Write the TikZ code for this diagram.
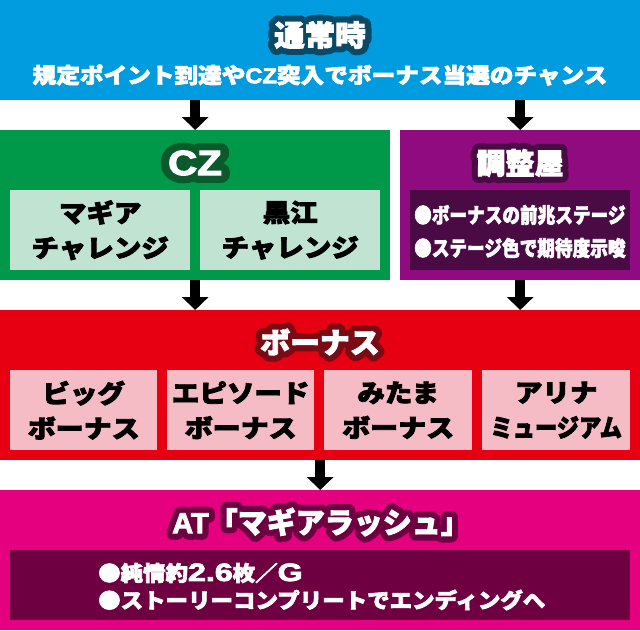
\documentclass[tikz,border=0pt]{standalone}
\usepackage{fontspec}
\newfontfamily\jp{Noto Sans CJK JP}[BoldFeatures={FakeBold=3}]
\newfontfamily\jpo{Noto Sans CJK JP}[BoldFeatures={FakeBold=45}]
\newfontfamily\lat{Liberation Sans}[BoldFeatures={FakeBold=3}]
\newfontfamily\lato{Liberation Sans}[BoldFeatures={FakeBold=45}]
\usetikzlibrary{arrows.meta}
\newcommand\rj{\special{pdf:code 1 j 1 J}}
\newcommand\bignum[1]{{\lat\bfseries\fontsize{25}{27}\selectfont\scalebox{1.2}[1]{#1}}}
\definecolor{cblue}{HTML}{009CDF}
\definecolor{cblueo}{HTML}{0B4A66}
\definecolor{cgreen}{HTML}{00994A}
\definecolor{cgreeno}{HTML}{0B5A2C}
\definecolor{clgreen}{HTML}{C0E3D2}
\definecolor{cpurple}{HTML}{900A80}
\definecolor{cdpurple}{HTML}{4A0A44}
\definecolor{cred}{HTML}{E60012}
\definecolor{credo}{HTML}{7A0A14}
\definecolor{cpink}{HTML}{F6BCC6}
\definecolor{cmag}{HTML}{E4007F}
\definecolor{cdmag}{HTML}{6E0041}
\tikzset{
  panel/.style={rectangle, inner sep=0pt, anchor=north west},
  ttl/.style={inner sep=0pt, text=white, font=\jp\bfseries\fontsize{29}{30}\selectfont},
  ttlo/.style={inner sep=0pt, font=\jpo\bfseries\fontsize{29}{30}\selectfont},
  inbox/.style={rectangle, inner sep=0pt, anchor=north west, align=center, text=black,
     font=\jp\bfseries\fontsize{25}{35}\selectfont},
  wtxt/.style={inner sep=0pt, text=white, align=left, anchor=west,
     font=\jp\bfseries\fontsize{21}{27}\selectfont},
  arr/.style={line width=10pt, -{Triangle[width=26pt,length=13pt]}, black}
}
\begin{document}
\begin{tikzpicture}[x=1pt,y=-1pt]
\useasboundingbox (0,0) rectangle (640,630);
% panels
\node[panel, fill=cblue, minimum width=640pt, minimum height=100pt] (top) at (0,0) {};
\node[panel, fill=cgreen, minimum width=390pt, minimum height=150pt] (cz) at (0,130) {};
\node[panel, fill=cpurple, minimum width=240pt, minimum height=150pt] (chosei) at (400,130) {};
\node[panel, fill=cred, minimum width=640pt, minimum height=150pt] (bonus) at (0,310) {};
\node[panel, fill=cmag, minimum width=640pt, minimum height=140pt] (at) at (0,490) {};
% top texts
\node[ttlo, text=cblueo] (t1o) at (320,35) {\rj\scalebox{1.05}[1]{通常時}};
\node[ttl] (t1) at (t1o) {\scalebox{1.05}[1]{通常時}};
\node[ttl, font=\jp\bfseries\fontsize{21.5}{24}\selectfont] (t2) at (320,75) {\scalebox{1.1}[1]{規定ポイント到達や{\lat\bfseries CZ}突入でボーナス当選のチャンス}};
% CZ
\node[ttlo, text=cgreeno, font=\lato\bfseries\fontsize{35}{36}\selectfont] (czo) at (195,163) {\rj\scalebox{1.15}[1]{CZ}};
\node[ttl, font=\lat\bfseries\fontsize{35}{36}\selectfont] (czt) at (czo) {\scalebox{1.15}[1]{CZ}};
\node[inbox, fill=clgreen, minimum width=180pt, minimum height=80pt] (magi) at (10,190) {\scalebox{1.1}[1]{マギア}\\\scalebox{1.1}[1]{チャレンジ}};
\node[inbox, fill=clgreen, minimum width=180pt, minimum height=80pt] (kuroe) at (200,190) {\scalebox{1.1}[1]{黒江}\\\scalebox{1.1}[1]{チャレンジ}};
% chosei
\node[ttlo, text=cdpurple] (cho) at (520,163) {\rj 調整屋};
\node[ttl] (cht) at (cho) {調整屋};
\node[panel, fill=cdpurple, minimum width=220pt, minimum height=80pt] (chbox) at (410,190) {};
\node[wtxt] (ch1) at (414,215) {\scalebox{0.84}[1]{●ボーナスの前兆ステージ}};
\node[wtxt] (ch2) at (414,248) {\scalebox{0.84}[1]{●ステージ色で期待度示唆}};
% bonus
\node[ttlo, text=credo] (bto) at (320,342) {\rj\scalebox{1.03}[1]{ボーナス}};
\node[ttl] (bt) at (bto) {\scalebox{1.03}[1]{ボーナス}};
\node[inbox, fill=cpink, minimum width=147pt, minimum height=80pt] (big) at (10,370) {\scalebox{1.1}[1]{ビッグ}\\\scalebox{1.12}[1]{ボーナス}};
\node[inbox, fill=cpink, minimum width=147pt, minimum height=80pt] (epi) at (167,370) {\scalebox{1.1}[1]{エピソード}\\\scalebox{1.12}[1]{ボーナス}};
\node[inbox, fill=cpink, minimum width=148pt, minimum height=80pt] (mitama) at (324,370) {\scalebox{1.1}[1]{みたま}\\\scalebox{1.12}[1]{ボーナス}};
\node[inbox, fill=cpink, minimum width=148pt, minimum height=80pt] (arina) at (482,370) {\scalebox{1.1}[1]{アリナ}\\\scalebox{0.89}[1]{ミュージアム}};
% AT
\node[ttlo, text=cdmag] (atto) at (321,522) {\rj{\lato\bfseries AT}「マギアラッシュ」};
\node[ttl] (att) at (atto) {{\lat\bfseries AT}「マギアラッシュ」};
\node[panel, fill=cdmag, minimum width=620pt, minimum height=70pt] (atbox) at (10,550) {};
\node[wtxt] (at1) at (98,573) {\scalebox{1.07}[1]{●純情約\bignum{2.6}枚／\bignum{G}}};
\node[wtxt] (at2) at (98,600) {\scalebox{1.07}[1]{●ストーリーコンプリートでエンディングへ}};
% arrows
\draw[arr] (top.south -| cz.north) -- (cz.north);
\draw[arr] (top.south -| chosei.north) -- (chosei.north);
\draw[arr] (cz.south) -- (bonus.north -| cz.south);
\draw[arr] (chosei.south) -- (bonus.north -| chosei.south);
\draw[arr] (bonus.south) -- (at.north);
\end{tikzpicture}
\end{document}
